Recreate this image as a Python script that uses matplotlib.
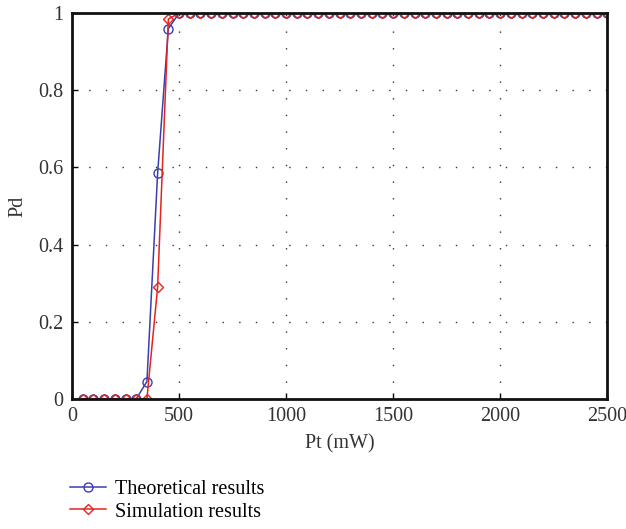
import matplotlib
matplotlib.use('Agg')
import matplotlib.pyplot as plt

# データ
pt = list(range(50, 2501, 50))
theory = [0, 0, 0, 0, 0, 0, 0.045, 0.585, 0.96] + [1.0] * (len(pt) - 9)
simul = [0, 0, 0, 0, 0, 0, 0, 0.29, 0.985] + [1.0] * (len(pt) - 9)
xticks = [0, 500, 1000, 1500, 2000, 2500]
yticks = [0, 0.2, 0.4, 0.6, 0.8, 1]
ytick_labels = ['0', '0.2', '0.4', '0.6', '0.8', '1']

plt.rcParams['font.family'] = ['Liberation Serif', 'DejaVu Serif']

fig = plt.figure(figsize=(6.26, 5.29), dpi=100)
ax = fig.add_axes([0.115, 0.246, 0.855, 0.729])

blue = '#3b3fb0'
red = '#e3241f'
l1, = ax.plot(pt, theory, color=blue, lw=1.1, marker='o', ms=6.5,
              mfc='none', mec=blue, mew=1.0, label='Theoretical results')
l2, = ax.plot(pt, simul, color=red, lw=1.1, marker='D', ms=5.2,
              mfc='none', mec=red, mew=1.0, label='Simulation results')

ax.set_xlim(0, 2500)
ax.set_ylim(0, 1)
ax.set_xticks(xticks)
ax.set_yticks(yticks)
ax.set_yticklabels(ytick_labels)
ax.tick_params(direction='in', length=4, width=1, labelsize=14.5,
               labelcolor='#333333', top=False, right=False, pad=6)
ax.grid(True, color='#333333', linestyle=(0, (1, 11)), linewidth=1.0)
for s in ax.spines.values():
    s.set_linewidth(2)
    s.set_color('#111111')

ax.set_xlabel('Pt (mW)', fontsize=14.5, color='#333333', labelpad=6)
ax.set_ylabel('Pd', fontsize=14.5, color='#333333', labelpad=8)

fig.legend(handles=[l1, l2], loc='upper left', bbox_to_anchor=(0.112, 0.092),
           frameon=False, fontsize=14.5, handlelength=1.8, handletextpad=0.45,
           labelspacing=0.15, borderaxespad=0, borderpad=0)

plt.savefig('out.png', dpi=100)
